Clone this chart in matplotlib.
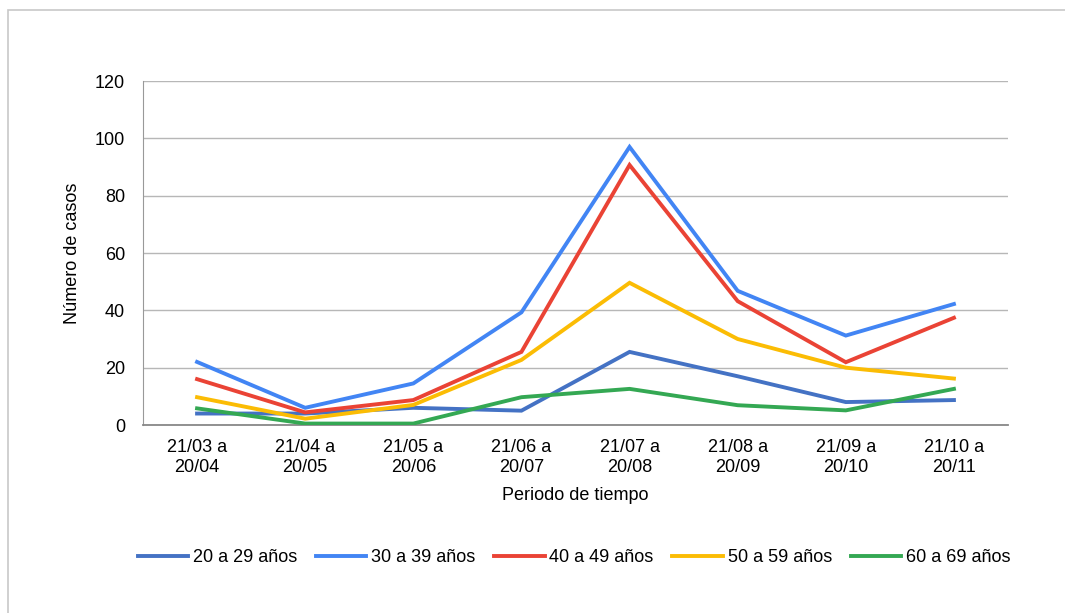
import matplotlib
matplotlib.use("Agg")
import matplotlib.pyplot as plt
from matplotlib.patches import Rectangle

plt.rcParams['font.family'] = ['Liberation Sans', 'DejaVu Sans']

categories = ["21/03 a\n20/04", "21/04 a\n20/05", "21/05 a\n20/06", "21/06 a\n20/07",
              "21/07 a\n20/08", "21/08 a\n20/09", "21/09 a\n20/10", "21/10 a\n20/11"]
s20_29 = [4, 4, 6, 5, 25.5, 17, 8, 8.7]
s30_39 = [22, 6, 14.5, 39.3, 97, 46.8, 31.2, 42.2]
s40_49 = [16, 4.4, 8.7, 25.5, 90.7, 43.2, 21.9, 37.4]
s50_59 = [9.7, 2.2, 7, 22.7, 49.6, 30, 20, 16.2]
s60_69 = [5.8, 0.5, 0.5, 9.7, 12.6, 6.9, 5.1, 12.6]
series_names = ["20 a 29 años", "30 a 39 años", "40 a 49 años", "50 a 59 años", "60 a 69 años"]
colors = ["#4472C4", "#4285F4", "#EA4335", "#FBBC04", "#34A853"]
yticks = [0, 20, 40, 60, 80, 100, 120]

FS = 13

fig = plt.figure(figsize=(10.65, 6.13), dpi=100)
fig.patches.append(Rectangle((8/1065, -0.05), 1.2, 1 - 10/613 + 0.05, transform=fig.transFigure,
                             fill=False, edgecolor="#c8c8c8", linewidth=1.2))
ax = fig.add_axes([143/1065, 1 - 425/613, (1008 - 143)/1065, (425 - 81)/613])

x = list(range(len(categories)))
for data, name, c in zip([s20_29, s30_39, s40_49, s50_59, s60_69], series_names, colors):
    ax.plot(x, data, color=c, linewidth=2.8, label=name, solid_joinstyle='miter', zorder=3)

ax.set_xlim(-0.5, len(categories) - 0.5)
ax.set_ylim(0, 120)
ax.set_yticks(yticks)
ax.set_xticks(x)
ax.set_xticklabels(categories, fontsize=FS, linespacing=1.25)
ax.tick_params(axis='both', length=0, labelsize=FS, colors="#000000")
ax.tick_params(axis='x', pad=10)
ax.tick_params(axis='y', pad=13)
ax.grid(axis='y', color="#b7b7b7", linewidth=1)
ax.set_axisbelow(True)
for s in ['top', 'right']:
    ax.spines[s].set_visible(False)
ax.spines['left'].set_color("#999999")
ax.spines['bottom'].set_color("#888888")
ax.spines['bottom'].set_linewidth(1.3)

ax.set_ylabel("Número de casos", fontsize=FS, labelpad=10)
ax.set_xlabel("Periodo de tiempo", fontsize=FS, labelpad=8)

fig.legend(loc='center', bbox_to_anchor=(574/1065, 1 - 558/613), ncol=5, frameon=False,
           fontsize=FS, handlelength=2.8, handletextpad=0.25, columnspacing=1.05)

fig.savefig("out.png", dpi=100, facecolor="white")
